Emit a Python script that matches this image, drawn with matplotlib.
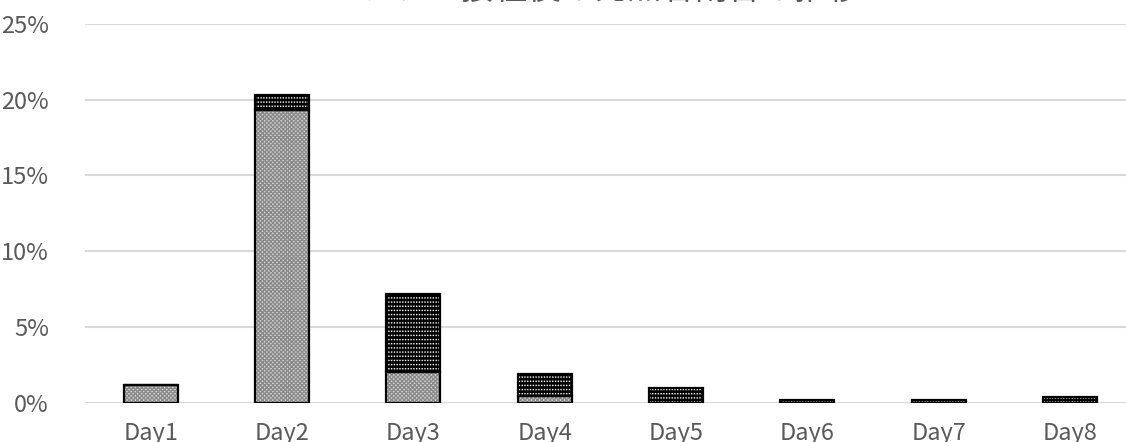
import numpy as np
import matplotlib
matplotlib.use("Agg")
import matplotlib.pyplot as plt

plt.rcParams['font.family'] = ['Noto Sans CJK JP', 'DejaVu Sans']
plt.rcParams['hatch.linewidth'] = 1.0

# データ
days = ["Day1", "Day2", "Day3", "Day4", "Day5", "Day6", "Day7", "Day8"]
lower = [1.2, 19.3, 2.05, 0.45, 0.0, 0.0, 0.0, 0.0]   # 格子柄 (%)
upper = [0.0, 1.0, 5.1, 1.42, 0.95, 0.18, 0.18, 0.4]  # 破線柄 (%)
yticks = [0, 5, 10, 15, 20, 25]
title = "ワクチン接種後の発熱者割合の推移"

grey = "#595959"

fig = plt.figure(figsize=(11.26, 4.42), dpi=100)
ax = fig.add_axes([85 / 1126, 39.3 / 442, 1050.7 / 1126, 378.7 / 442])

x = np.arange(len(days))
w = 0.41
lo = np.array(lower) / 100
up = np.array(upper) / 100

# 下段: 格子柄
ax.bar(x, lo, w, color="#d6d6d6", edgecolor="#8a8a8a", hatch="xxxxxxxx", linewidth=0, zorder=2)
# 上段: 黒地に白い破線
ax.bar(x, up, w, bottom=lo, color="black", edgecolor="white", hatch="----", linewidth=0, zorder=2)
ax.bar(x, up, w, bottom=lo, fill=False, edgecolor="black", hatch="||||||", linewidth=0, zorder=3)
# 枠線
ax.bar(x, lo, w, fill=False, edgecolor="black", linewidth=1.6, zorder=4)
ax.bar(x, up, w, bottom=lo, fill=False, edgecolor="black", linewidth=1.6, zorder=4)

ax.set_xlim(-0.5, len(days) - 0.5)
ax.set_ylim(0, 0.25)
ax.set_yticks(np.array(yticks) / 100)
ax.set_yticklabels([f"{v}%" for v in yticks])
ax.set_xticks(x)
ax.set_xticklabels(days)
ax.tick_params(axis="both", length=0, labelsize=17, colors=grey)
ax.tick_params(axis="y", pad=26)
ax.tick_params(axis="x", pad=14)
ax.grid(axis="y", color="#d9d9d9", linewidth=1.5, zorder=0)
for s in ax.spines.values():
    s.set_visible(False)

fig.text(595 / 1126, 1 + 1 / 442, title, ha="center", va="baseline", fontsize=24, color=grey)

fig.savefig("out.png", dpi=100)
